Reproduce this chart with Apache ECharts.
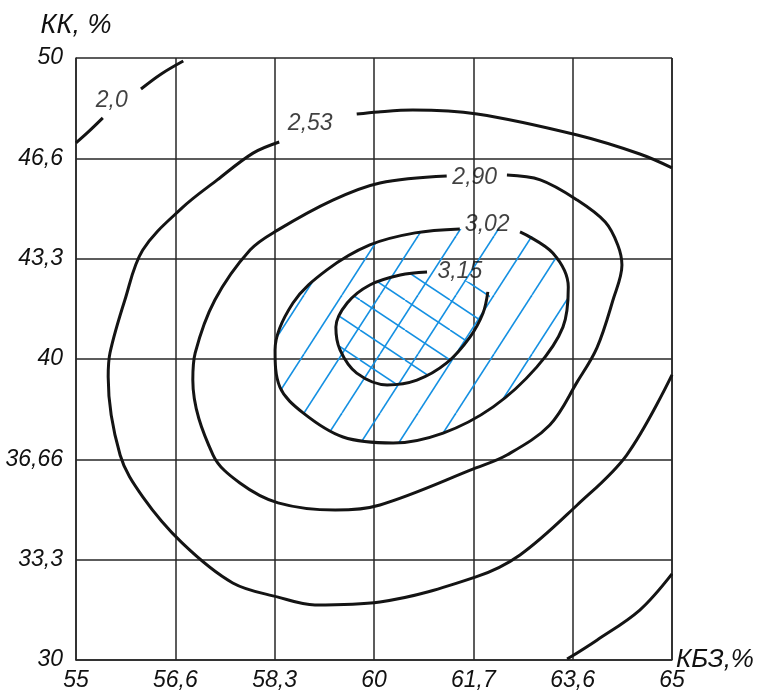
<!DOCTYPE html>
<html>
<head>
<meta charset="utf-8">
<script src="https://cdn.jsdelivr.net/npm/echarts@6/dist/echarts.min.js"></script>
<style>
  html, body { margin: 0; padding: 0; background: #fff; }
  #chart { width: 763px; height: 695px; }
</style>
</head>
<body>
<div id="chart"></div>
<script>
// axis tick labels (КБЗ, % and КК, %)
const xTickLabels = ['55', '56,6', '58,3', '60', '61,7', '63,6', '65'];
const yTickLabels = ['30', '33,3', '36,66', '40', '43,3', '46,6', '50'];

// contour lines, [КБЗ, КК] points
const c200a = [[55.00, 47.18], [55.22, 47.57], [55.45, 48.01]];
const c200b = [[56.09, 48.97], [56.43, 49.47], [56.80, 49.90]];
const c200c = [[63.24, 30.03], [63.74, 30.66], [64.46, 31.66], [65.00, 32.86]];

const c253a = [
  [58.41, 47.21], [57.97, 46.84], [57.37, 45.95], [56.78, 45.02], [56.12, 43.62],
  [55.82, 41.96], [55.57, 40.20], [55.54, 39.40], [55.74, 36.81], [56.12, 35.42],
  [56.78, 33.89], [57.63, 32.56], [58.39, 32.09], [59.01, 31.83], [60.10, 31.93],
  [61.71, 32.76], [62.45, 33.49], [63.41, 35.15], [64.24, 36.81], [65.00, 39.47]
];
const c253b = [
  [59.71, 48.14], [60.07, 48.21], [60.65, 48.27], [61.73, 48.14], [63.41, 47.44],
  [64.46, 46.81], [65.00, 46.35]
];

const c290 = [
  [61.22, 46.08], [60.10, 45.85], [59.31, 45.28], [58.39, 44.29], [57.92, 43.62],
  [57.33, 41.96], [57.00, 40.20], [56.96, 39.30], [57.30, 36.81], [57.75, 35.88],
  [58.39, 35.22], [59.35, 34.98], [60.10, 35.15], [61.71, 36.38], [62.23, 36.81],
  [62.95, 37.81], [63.41, 39.24], [63.74, 40.37], [64.01, 41.96], [64.16, 43.12],
  [64.09, 43.79], [63.88, 44.55], [63.41, 45.28], [62.79, 45.95], [62.23, 46.11]
];

const c302 = [
  [61.44, 44.32], [60.69, 44.19], [59.93, 43.79], [59.21, 42.96], [58.64, 41.86],
  [58.34, 40.30], [58.42, 39.07], [58.81, 38.21], [59.48, 37.41], [60.32, 37.21],
  [61.16, 37.54], [62.00, 38.41], [62.73, 39.73], [63.17, 41.06], [63.26, 42.39],
  [63.00, 43.52], [62.45, 44.22]
];

const c315 = [
  [60.89, 42.89], [60.44, 42.79], [59.93, 42.46], [59.55, 41.86], [59.36, 41.06],
  [59.43, 40.30], [59.71, 39.53], [60.22, 39.14], [60.72, 39.30], [61.22, 39.87],
  [61.61, 40.73], [61.83, 41.53], [61.91, 42.23]
];

// contour level labels and where they sit
const levelLabels = ['2,0', '2,53', '2,90', '3,02', '3,15'];
const levelPos = [[55.60, 48.57], [58.93, 47.81], [61.69, 46.01], [61.90, 44.45], [61.44, 42.89]];

const HATCH = '#1490e2';
const FONT = 'Liberation Sans, Arial, sans-serif';
const INK = '#111';

function hatchTile(w, h, rising) {
  const c = document.createElement('canvas');
  c.width = w; c.height = h;
  const ctx = c.getContext('2d');
  ctx.strokeStyle = HATCH;
  ctx.lineWidth = 1.6;
  for (const k of [-1, 0, 1]) {
    ctx.beginPath();
    if (rising) { ctx.moveTo(k * w, h); ctx.lineTo(k * w + w, 0); }
    else { ctx.moveTo(k * w, 0); ctx.lineTo(k * w + w, h); }
    ctx.stroke();
  }
  return c;
}

function hatchSeries(zone, tile) {
  return {
    type: 'custom',
    silent: true,
    z: 3,
    data: zone,
    renderItem: function (params, api) {
      if (params.dataIndex !== 0) return;
      const pts = zone.map(p => api.coord(p));
      return {
        type: 'polygon',
        shape: { points: pts, smooth: 0.4 },
        style: { fill: { image: tile, repeat: 'repeat' }, stroke: null }
      };
    }
  };
}

function contour(seg) {
  return {
    type: 'line',
    data: seg,
    smooth: 0.35,
    symbol: 'none',
    silent: true,
    z: 5,
    lineStyle: { color: '#141414', width: 3 }
  };
}

const gridLine = { color: '#262626', width: 1.5 };
const tickText = { fontSize: 23, fontStyle: 'italic', color: INK, fontFamily: FONT };

const chart = echarts.init(document.getElementById('chart'));
chart.setOption({
  animation: false,
  backgroundColor: '#fff',
  grid: { left: 76, top: 58, width: 596, height: 602, outerBoundsMode: 'none', containLabel: false },
  xAxis: {
    type: 'value', min: 55, max: 65, interval: 10 / 6,
    axisLine: { show: true, lineStyle: gridLine },
    axisTick: { show: false },
    splitLine: { show: true, lineStyle: gridLine },
    axisLabel: Object.assign({
      margin: 9,
      formatter: v => xTickLabels[Math.round((v - 55) / (10 / 6))]
    }, tickText),
    name: 'КБЗ,%', nameLocation: 'end', nameGap: 4, nameMoveOverlap: false,
    nameTextStyle: { fontSize: 26, fontStyle: 'italic', color: INK, fontFamily: FONT, padding: [0, 0, 10, 0] }
  },
  yAxis: {
    type: 'value', min: 30, max: 50, interval: 10 / 3,
    axisLine: { show: true, lineStyle: gridLine },
    axisTick: { show: false },
    splitLine: { show: true, lineStyle: gridLine },
    axisLabel: Object.assign({
      margin: 13,
      formatter: v => yTickLabels[Math.round((v - 30) / (10 / 3))]
    }, tickText),
    name: 'КК, %', nameLocation: 'end', nameGap: 19, nameMoveOverlap: false,
    nameTextStyle: { fontSize: 27, fontStyle: 'italic', color: INK, fontFamily: FONT }
  },
  series: [
    hatchSeries(c302, hatchTile(38, 59, true)),
    hatchSeries(c315, hatchTile(45, 30, false)),
    contour(c200a), contour(c200b), contour(c200c),
    contour(c253a), contour(c253b),
    contour(c290), contour(c302), contour(c315),
    {
      type: 'scatter',
      silent: true,
      z: 6,
      symbolSize: 0,
      data: levelPos.map((p, i) => [p[0], p[1], levelLabels[i]]),
      label: {
        show: true, position: 'inside',
        formatter: p => p.value[2],
        fontSize: 23, fontStyle: 'italic', color: INK, fontFamily: FONT
      }
    }
  ]
});
</script>
</body>
</html>
